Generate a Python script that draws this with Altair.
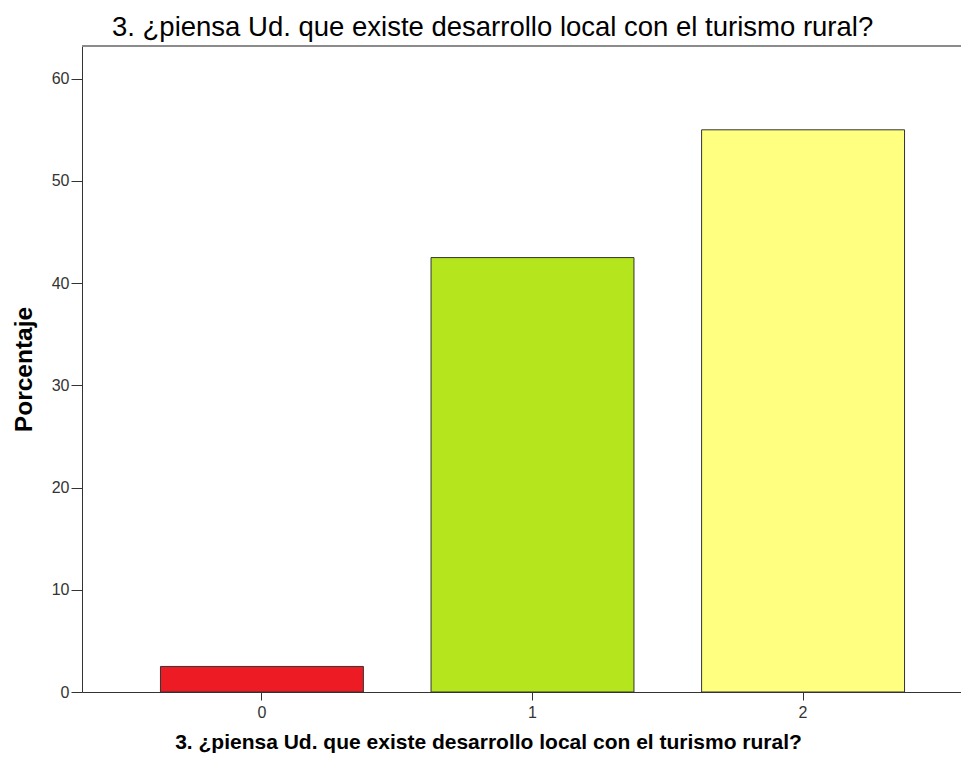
import altair as alt
import pandas as pd

categories = ["0", "1", "2"]
percentages = [2.5, 42.5, 55.0]
bar_colors = ["#ed1c24", "#b5e61d", "#ffff80"]
y_ticks = [0, 10, 20, 30, 40, 50, 60]
title_text = "3. ¿piensa Ud. que existe desarrollo local con el turismo rural?"

df = pd.DataFrame({"cat": categories, "pct": percentages})

W, H = 879, 646

bars = alt.Chart(df).mark_bar(stroke="#333333", strokeWidth=1).encode(
    x=alt.X("cat:N",
            scale=alt.Scale(range=[0, 901], paddingInner=0.25, paddingOuter=0.29),
            axis=alt.Axis(title=title_text, labelAngle=0, titleFontWeight="bold",
                          titleFontSize=21, titleColor="#000000", titlePadding=11,
                          titleX=406, titleAnchor="middle",
                          labelFontSize=16, labelColor="#333333", labelPadding=4,
                          tickSize=8, tickColor="#333333", domainColor="#333333",
                          labelFont="Liberation Sans", titleFont="Liberation Sans")),
    y=alt.Y("pct:Q",
            scale=alt.Scale(domain=[0, 63.2], nice=False, zero=True),
            axis=alt.Axis(title="Porcentaje", values=y_ticks, grid=False,
                          titleFontWeight="bold", titleFontSize=24.5, titleColor="#000000",
                          titlePadding=15, labelFontSize=16, labelColor="#333333",
                          labelPadding=2, tickSize=11, tickColor="#333333",
                          domainColor="#333333", labelFont="Liberation Sans",
                          titleFont="Liberation Sans")),
    color=alt.Color("cat:N", scale=alt.Scale(domain=categories, range=bar_colors), legend=None),
)

top_line = alt.Chart(df).mark_rule(color="#8c8c8c", strokeWidth=2).encode(
    x=alt.value(0), x2=alt.value(W), y=alt.value(0)
)

chart = alt.layer(top_line, bars).properties(
    width=W, height=H,
    title=alt.Title(title_text, fontSize=27.5, fontWeight="normal", font="Liberation Sans",
                    color="#000000", anchor="start", frame="group", dx=30, offset=4),
    autosize=alt.AutoSizeParams(type="none"),
    padding={"left": 74, "top": 38, "right": 0, "bottom": 61},
).configure_view(stroke=None)

chart.save("out.html", embed_options={"renderer": "svg", "actions": False})
